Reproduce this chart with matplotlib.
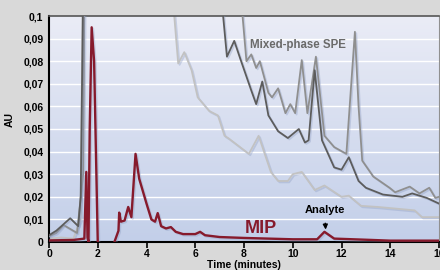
import numpy as np
import matplotlib.pyplot as plt
import matplotlib.patheffects as pe
from matplotlib.colors import LinearSegmentedColormap

plt.rcParams['font.family'] = ['Liberation Sans', 'DejaVu Sans']

# MIP trace (dark red)
mip_t = [0, 0.5, 1.0, 1.45, 1.53, 1.58, 1.62, 1.67, 1.75, 1.85, 2.0, 2.05, 2.6, 2.65,
         2.85, 2.88, 2.95, 3.1, 3.25, 3.38, 3.55, 3.7, 4.0, 4.2, 4.35, 4.46, 4.6, 4.8,
         5.0, 5.2, 5.5, 6.0, 6.2, 6.4, 7.0, 8.0, 9.0, 10.0, 11.0, 11.3, 11.7, 13.0,
         14.0, 16.0]
mip_au = [0.0007, 0.0008, 0.0009, 0.0015, 0.031, 0.002, 0.0, 0.05, 0.095, 0.08, 0.0, -0.01, -0.01, -0.001,
          0.005, 0.013, 0.009, 0.0095, 0.0155, 0.011, 0.039, 0.028, 0.017, 0.010, 0.009, 0.0128, 0.007, 0.006,
          0.0066, 0.0045, 0.0035, 0.0035, 0.0045, 0.003, 0.0022, 0.0018, 0.0015, 0.0012, 0.0012, 0.0045, 0.0015, 0.0010,
          0.0006, 0.0006]

# Mixed-phase SPE traces (three grays)
dark_t = [0, 0.3, 0.87, 1.2, 1.3, 1.4, 7.1, 7.3, 7.6, 7.85, 8.3, 8.5, 8.75, 9.0, 9.4, 9.8,
          10.25, 10.5, 10.65, 10.9, 11.2, 11.7, 12.0, 12.3, 12.7, 13.0, 13.7, 14.5, 14.9, 15.5, 16.0]
dark_au = [0.003, 0.005, 0.0105, 0.007, 0.02, 0.11, 0.105, 0.082, 0.089, 0.081, 0.067, 0.061, 0.071, 0.056, 0.049, 0.046,
           0.050, 0.044, 0.045, 0.076, 0.045, 0.033, 0.032, 0.0375, 0.027, 0.024, 0.021, 0.020, 0.0215, 0.0195, 0.017]

mid_t = [0, 0.3, 0.6, 1.15, 1.4, 1.45, 7.9, 8.1, 8.3, 8.5, 8.65, 9.0, 9.15, 9.4, 9.7, 9.9, 10.1,
         10.37, 10.6, 10.95, 11.3, 11.7, 12.2, 12.4, 12.55, 12.7, 12.85, 13.3, 13.97, 14.2, 14.8,
         15.2, 15.6, 15.85, 16.0]
mid_au = [0.0025, 0.004, 0.0075, 0.004, 0.03, 0.11, 0.105, 0.080, 0.083, 0.077, 0.080, 0.066, 0.064, 0.068, 0.057, 0.061, 0.057,
          0.0805, 0.057, 0.082, 0.047, 0.042, 0.039, 0.07, 0.093, 0.06, 0.036, 0.029, 0.024, 0.022, 0.0245,
          0.0215, 0.024, 0.0195, 0.020]

light_t = [0, 0.5, 1.0, 1.3, 1.38, 5.1, 5.3, 5.55, 5.85, 6.1, 6.57, 6.93, 7.2, 7.35, 8.2, 8.6, 9.1, 9.4,
           9.8, 10.0, 10.37, 10.9, 11.3, 12.0, 12.3, 12.8, 13.5, 14.0, 15.0, 15.3, 16.0]
light_au = [0.0015, 0.002, 0.0015, 0.01, 0.11, 0.105, 0.079, 0.084, 0.076, 0.064, 0.058, 0.056, 0.047, 0.046, 0.039, 0.047,
            0.031, 0.027, 0.027, 0.030, 0.031, 0.023, 0.025, 0.020, 0.0205, 0.016, 0.0155, 0.015, 0.014, 0.011, 0.011]

yticks = [0, 0.01, 0.02, 0.03, 0.04, 0.05, 0.06, 0.07, 0.08, 0.09, 0.1]
ytick_labels = ['0', '0,01', '0,02', '0,03', '0,04', '0,05', '0,06', '0,07', '0,08', '0,09', '0,1']
xticks = [0, 2, 4, 6, 8, 10, 12, 14, 16]

fig = plt.figure(figsize=(4.4, 2.7), dpi=100, facecolor='#d9d9d9')
ax = fig.add_axes([49/440, 1 - 242/270, 390/440, 226/270])

# gradient background
grad = np.linspace(0, 1, 100).reshape(-1, 1)
bg_cmap = LinearSegmentedColormap.from_list('bg', ['#c3cfe9', '#eaecf6'])
ax.imshow(grad, extent=[0, 16, 0, 0.1], aspect='auto', origin='lower', zorder=0, cmap=bg_cmap)

for y in yticks[1:-1]:
    ax.axhline(y, color='white', lw=1.0, zorder=1)

shadow = [pe.SimpleLineShadow(offset=(1, -1), shadow_color='#8a9ac0', alpha=0.35), pe.Normal()]
ax.plot(light_t, light_au, color='#c2c2c2', lw=1.3, zorder=2, path_effects=shadow)
ax.plot(mid_t, mid_au, color='#8f8f8f', lw=1.3, zorder=3, path_effects=shadow)
ax.plot(dark_t, dark_au, color='#5c5c5c', lw=1.3, zorder=4, path_effects=shadow)
ax.plot(mip_t, mip_au, color='#861a2c', lw=1.7, zorder=5, path_effects=shadow)

ax.set_xlim(0, 16)
ax.set_ylim(0, 0.1)
ax.set_yticks(yticks)
ax.set_yticklabels(ytick_labels)
ax.set_xticks(xticks)
ax.set_xticklabels([str(x) for x in xticks])
ax.tick_params(axis='y', length=0, pad=4, labelsize=7.5)
ax.tick_params(axis='x', length=4, width=1.2, pad=1, labelsize=7.5)
for lab in ax.get_xticklabels() + ax.get_yticklabels():
    lab.set_fontweight('bold')

ax.spines['left'].set_linewidth(1.5)
ax.spines['bottom'].set_linewidth(1.5)
ax.spines['top'].set_color('#555555')
ax.spines['top'].set_linewidth(1.2)
ax.spines['right'].set_color('#909090')

ax.set_xlabel('Time (minutes)', fontsize=7.5, fontweight='bold', labelpad=1)
ax.set_ylabel('AU', fontsize=7.5, fontweight='bold')
ax.yaxis.set_label_coords(-0.088, 0.54)

ax.text(10.2, 0.0872, 'Mixed-phase SPE', color='#6a6a6a', fontsize=8.3, fontweight='bold',
        ha='center', va='center', zorder=6)
ax.text(8.7, 0.0058, 'MIP', color='#861a2c', fontsize=13, fontweight='bold',
        ha='center', va='center', zorder=6)
ax.annotate('Analyte', xy=(11.35, 0.0055), xytext=(11.3, 0.0142),
            fontsize=8, fontweight='bold', ha='center', va='center', zorder=6,
            arrowprops=dict(arrowstyle='-|>', color='black', lw=1, mutation_scale=7,
                            shrinkA=4, shrinkB=0))

fig.savefig('out.png', dpi=100, facecolor=fig.get_facecolor())
